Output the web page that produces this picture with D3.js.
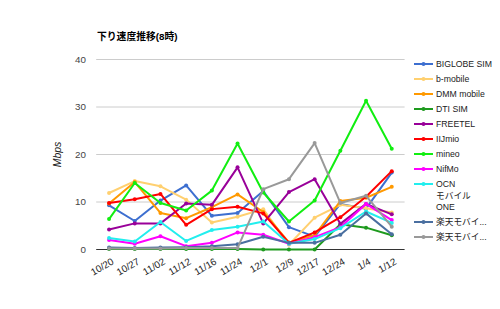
<!DOCTYPE html>
<html><head><meta charset="utf-8">
<script src="https://cdn.jsdelivr.net/npm/d3@7"></script>
<style>
body{margin:0;background:#fff;}
text{font-family:"Liberation Sans",Arial,"Noto Sans CJK JP",sans-serif;}
</style></head>
<body><svg id="c" width="500" height="309"></svg>
<script>
const categories = ["10/20","10/27","11/02","11/12","11/16","11/24","12/1","12/9","12/17","12/24","1/4","1/12"];
const seriesNames = ["BIGLOBE SIM","b-mobile","DMM mobile","DTI SIM","FREETEL","IIJmio","mineo","NifMo","OCN\nモバイル\nONE","楽天モバイ...","楽天モバイ..."];
const biglobe = [9.3, 6.0, 10.3, 13.5, 7.1, 7.7, 12.3, 4.7, 2.7, 9.6, 8.6, 16.2];
const bmobile = [11.9, 14.4, 13.3, 10.5, 5.7, 6.9, 8.5, 1.0, 6.7, 9.4, 8.7, 7.8];
const dmm = [9.7, 14.2, 7.7, 6.6, 8.9, 11.6, 7.9, 1.5, 3.0, 10.2, 10.9, 13.2];
const dti = [0.1, 0.1, 0.1, 0.1, 0.1, 0.1, 0, 0, 0, 5.3, 4.6, 3.0];
const freetel = [4.2, 5.5, 5.5, 9.7, 9.4, 17.3, 5.5, 12.1, 14.8, 5.4, 9.6, 7.4];
const iijmio = [9.8, 10.6, 11.7, 5.2, 8.5, 9.0, 7.6, 1.4, 3.6, 6.8, 11.1, 16.5];
const mineo = [6.4, 14.0, 9.8, 8.2, 12.4, 22.3, 12.0, 5.9, 10.3, 20.8, 31.3, 21.2];
const nifmo = [2.0, 1.2, 2.8, 0.7, 1.4, 3.6, 3.1, 1.2, 2.6, 4.7, 9.6, 6.2];
const ocn = [2.4, 1.7, 5.8, 1.8, 4.1, 4.8, 5.9, 1.2, 2.2, 4.5, 8.0, 5.6];
const rakuten1 = [0.4, 0.3, 0.4, 0.5, 0.7, 1.1, 2.7, 1.4, 1.4, 3.1, 7.6, 3.2];
const rakuten2 = [0.2, 0.2, 0.2, 0.3, 0.3, 0.3, 12.7, 14.8, 22.4, 9.8, 11.3, 4.8];
const yTicks = [0, 10, 20, 30, 40];
const title = "下り速度推移(8時)";
const yLabel = "Mbps";

const values = [biglobe, bmobile, dmm, dti, freetel, iijmio, mineo, nifmo, ocn, rakuten1, rakuten2];
const colors = ["#3d6fd0","#ffd070","#ff9900","#1e9a1e","#990099","#ff0000","#11ee11","#ff00ff","#22eeee","#4a6fa0","#999999"];

const svg = d3.select("#c");
const L = 96.2, R = 404.6, T = 59.5, B = 249.5;
const x = d3.scaleBand().domain(categories).range([L, R]);
const y = d3.scaleLinear().domain([0, 40]).range([B, T]);
const cx = d => x(d) + x.bandwidth() / 2;

// gridlines
svg.append("g").selectAll("line").data(yTicks.filter(t => t > 0)).join("line")
  .attr("x1", L).attr("x2", R).attr("y1", d => y(d)).attr("y2", d => y(d))
  .attr("stroke", "#cccccc").attr("stroke-width", 1);

// y tick labels
svg.append("g").selectAll("text").data(yTicks).join("text")
  .attr("x", 86).attr("y", d => y(d)).attr("dy", "0.35em")
  .attr("text-anchor", "end").attr("font-size", 9.8).attr("fill", "#444")
  .text(d => d);

// baseline
svg.append("line").attr("x1", L).attr("x2", R).attr("y1", y(0)).attr("y2", y(0))
  .attr("stroke", "#333").attr("stroke-width", 1);

// x labels
svg.append("g").selectAll("text").data(categories).join("text")
  .attr("transform", d => `translate(${cx(d) + 2},${B + 8}) rotate(-30)`)
  .attr("dy", "0.71em").attr("text-anchor", "end")
  .attr("font-size", 9.8).attr("fill", "#222").text(d => d);

// title
svg.append("text").attr("x", 97).attr("y", 37).attr("dy", "0.35em")
  .attr("font-size", 9.8).attr("font-weight", "bold").attr("fill", "#000").text(title);

// y axis label
svg.append("text").attr("transform", `translate(61,${(T + B) / 2}) rotate(-90)`)
  .attr("text-anchor", "middle").attr("font-size", 10.5).attr("font-style", "italic")
  .attr("fill", "#222").text(yLabel);

// lines
const line = d3.line().x((d, i) => cx(categories[i])).y(d => y(d));
values.forEach((vals, s) => {
  const g = svg.append("g");
  g.append("path").datum(vals).attr("d", line).attr("fill", "none")
    .attr("stroke", colors[s]).attr("stroke-width", 2).attr("stroke-linejoin", "round");
  g.selectAll("circle").data(vals).join("circle")
    .attr("cx", (d, i) => cx(categories[i])).attr("cy", d => y(d)).attr("r", 2)
    .attr("fill", colors[s]);
});

// legend
let ly = 64;
seriesNames.forEach((name, s) => {
  const lines = name.split("\n");
  const g = svg.append("g");
  g.append("line").attr("x1", 414).attr("x2", 433).attr("y1", ly).attr("y2", ly)
    .attr("stroke", colors[s]).attr("stroke-width", 2);
  g.append("circle").attr("cx", 423.5).attr("cy", ly).attr("r", 2).attr("fill", colors[s]);
  lines.forEach((t, k) => {
    g.append("text").attr("x", 436).attr("y", ly + k * 11.5).attr("dy", "0.35em")
      .attr("font-size", 8.7).attr("fill", "#222").text(t);
  });
  ly += 15 + (lines.length - 1) * 11.5;
});
</script></body></html>
